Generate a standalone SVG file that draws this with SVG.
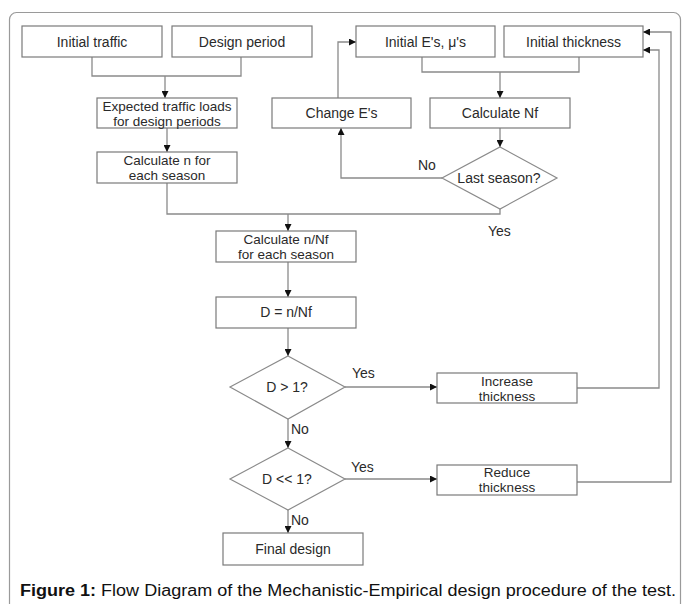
<svg xmlns="http://www.w3.org/2000/svg" width="683" height="604" viewBox="0 0 683 604">
<style>
.box{fill:#fff;stroke:#7a7a7a;stroke-width:1.2}
.dia{fill:#fff;stroke:#8a8a8a;stroke-width:1.2}
.t{font-family:"Liberation Sans",Arial,sans-serif;font-size:14px;fill:#2a2a2a;text-anchor:middle}
.t2{font-family:"Liberation Sans",Arial,sans-serif;font-size:13.5px;fill:#2a2a2a;text-anchor:middle}
.lbl{font-family:"Liberation Sans",Arial,sans-serif;font-size:14px;fill:#2a2a2a}
.c{fill:none;stroke:#8a8a8a;stroke-width:1.3}
.ca{fill:none;stroke:#8a8a8a;stroke-width:1.3;marker-end:url(#ah)}
.cap{font-family:"Liberation Sans",Arial,sans-serif;font-size:16px;fill:#111}
</style>
<defs>
<marker id="ah" viewBox="0 0 10 10" refX="10" refY="5" markerWidth="7" markerHeight="7" markerUnits="userSpaceOnUse" orient="auto">
<path d="M0,0 L10,5 L0,10 z" fill="#111"/>
</marker>
</defs>
<rect width="683" height="604" fill="#fff"/>
<rect x="9.5" y="12.5" width="671" height="640" rx="7" fill="none" stroke="#9a9a9a" stroke-width="1.2"/>

<g id="connectors">
<path class="c" d="M92,57 V76 H241 V57"/>
<path class="ca" d="M165,76 V98"/>
<path class="ca" d="M167,128 V152"/>
<path class="c" d="M422,57 V72 H579 V57"/>
<path class="ca" d="M500,72 V98"/>
<path class="ca" d="M500,128 V147"/>
<path class="ca" d="M338,98 V42 H356"/>
<path class="ca" d="M442,178 H341 V128"/>
<path class="c" d="M167,183 V214 H500 V209"/>
<path class="ca" d="M288,214 V231"/>
<path class="ca" d="M288,262 V297"/>
<path class="ca" d="M288,328 V356"/>
<path class="ca" d="M345,387 H437"/>
<path class="ca" d="M288,419 V448"/>
<path class="ca" d="M345,479 H437"/>
<path class="ca" d="M288,510 V533"/>
<path class="ca" d="M577,388 H659 V50 H643"/>
<path class="ca" d="M577,482 H671 V32 H643"/>
</g>

<g id="n-initial-traffic"><rect class="box" x="22" y="26" width="140" height="31"/><text class="t" x="92" y="46.5">Initial traffic</text></g>
<g id="n-design-period"><rect class="box" x="172" y="26" width="140" height="31"/><text class="t" x="242" y="46.5">Design period</text></g>
<g id="n-initial-e"><rect class="box" x="356" y="26" width="139" height="31"/><text class="t" x="425.5" y="46.5">Initial E's, μ's</text></g>
<g id="n-initial-thickness"><rect class="box" x="504" y="26" width="139" height="31"/><text class="t" x="573.5" y="46.5">Initial thickness</text></g>
<g id="n-expected"><rect class="box" x="97" y="98" width="140" height="30"/><text class="t2" x="167" y="110.5">Expected traffic loads</text><text class="t2" x="167" y="125.5">for design periods</text></g>
<g id="n-change-e"><rect class="box" x="272" y="98" width="139" height="30"/><text class="t" x="341.5" y="118">Change E's</text></g>
<g id="n-calc-nf"><rect class="box" x="430" y="98" width="140" height="30"/><text class="t" x="500" y="118">Calculate Nf</text></g>
<g id="n-calc-n"><rect class="box" x="97" y="152" width="140" height="31"/><text class="t2" x="167" y="165">Calculate n for</text><text class="t2" x="167" y="180">each season</text></g>
<g id="n-last-season"><polygon class="dia" points="500,147 557,178 500,209 442,178"/><text class="t" x="499" y="183">Last season?</text></g>
<g id="n-calc-nnf"><rect class="box" x="216" y="231" width="140" height="31"/><text class="t2" x="286" y="243.5">Calculate n/Nf</text><text class="t2" x="286" y="258.5">for each season</text></g>
<g id="n-d"><rect class="box" x="216" y="297" width="140" height="31"/><text class="t" x="286" y="317">D = n/Nf</text></g>
<g id="n-d-gt-1"><polygon class="dia" points="288,356 345,387 288,419 230,387"/><text class="t" x="287" y="392">D &gt; 1?</text></g>
<g id="n-increase"><rect class="box" x="437" y="373" width="140" height="30"/><text class="t2" x="507" y="385.5">Increase</text><text class="t2" x="507" y="400.5">thickness</text></g>
<g id="n-d-ll-1"><polygon class="dia" points="288,448 345,479 288,510 230,479"/><text class="t" x="287" y="484">D &lt;&lt; 1?</text></g>
<g id="n-reduce"><rect class="box" x="437" y="465" width="140" height="30"/><text class="t2" x="507" y="477">Reduce</text><text class="t2" x="507" y="492">thickness</text></g>
<g id="n-final"><rect class="box" x="223" y="533" width="140" height="32"/><text class="t" x="293" y="554">Final design</text></g>

<g id="labels">
<text class="lbl" x="418" y="170">No</text>
<text class="lbl" x="488" y="236">Yes</text>
<text class="lbl" x="352" y="378">Yes</text>
<text class="lbl" x="291" y="434">No</text>
<text class="lbl" x="351" y="472">Yes</text>
<text class="lbl" x="291" y="525">No</text>
</g>

<text class="cap" x="20" y="596" textLength="656" lengthAdjust="spacingAndGlyphs"><tspan font-weight="bold">Figure 1:</tspan> Flow Diagram of the Mechanistic-Empirical design procedure of the test.</text>
</svg>
